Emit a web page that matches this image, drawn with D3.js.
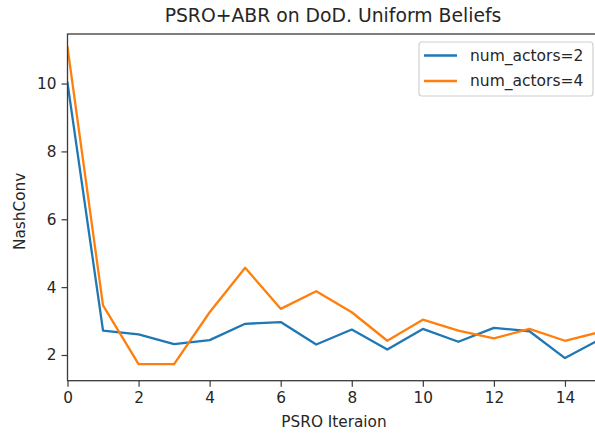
<!DOCTYPE html>
<html>
<head>
<meta charset="utf-8">
<script src="https://cdn.jsdelivr.net/npm/d3@7"></script>
<style>
  html, body { margin: 0; padding: 0; background: #fff; }
  svg { display: block; font-family: "DejaVu Sans", sans-serif; }
</style>
</head>
<body>
<svg id="chart" width="595" height="436"></svg>
<script>
// PSRO iterations and NashConv per run
const iterations = [0, 1, 2, 3, 4, 5, 6, 7, 8, 9, 10, 11, 12, 13, 14, 15];
const actors2 = [10.02, 2.72, 2.61, 2.32, 2.44, 2.92, 2.97, 2.31, 2.75, 2.16, 2.77, 2.39, 2.80, 2.70, 1.91, 2.47];
const actors4 = [11.07, 3.46, 1.73, 1.73, 3.26, 4.57, 3.36, 3.88, 3.26, 2.42, 3.04, 2.72, 2.49, 2.77, 2.42, 2.68];
const seriesNames = ["num_actors=2", "num_actors=4"];
const seriesColors = ["#1f77b4", "#ff7f0e"];
const xTicks = [0, 2, 4, 6, 8, 10, 12, 14];
const yTicks = [2, 4, 6, 8, 10];

const svg = d3.select("#chart");
const plot = { left: 67.5, right: 600.5, top: 34, bottom: 380.7 };

const x = d3.scaleLinear().domain([0, 15]).range([plot.left, plot.right]);
const y = d3.scaleLinear().domain([1.243, 11.46]).range([plot.bottom, plot.top]);

const textColor = "#262626";
const spineColor = "#3a3a3a";

// clip lines to the axes area
svg.append("clipPath").attr("id", "plot-clip")
  .append("rect")
  .attr("x", plot.left).attr("y", plot.top)
  .attr("width", plot.right - plot.left).attr("height", plot.bottom - plot.top);

const series = [actors2, actors4];
const line = d3.line().x((d, i) => x(iterations[i])).y(d => y(d));

series.forEach((vals, k) => {
  svg.append("path")
    .datum(vals)
    .attr("clip-path", "url(#plot-clip)")
    .attr("fill", "none")
    .attr("stroke", seriesColors[k])
    .attr("stroke-width", 2.3)
    .attr("stroke-linejoin", "round")
    .attr("stroke-linecap", "square")
    .attr("d", line);
});

// axes
const xAxis = d3.axisBottom(x).tickValues(xTicks).tickFormat(d3.format("d"))
  .tickSize(6).tickPadding(5);
const yAxis = d3.axisLeft(y).tickValues(yTicks).tickFormat(d3.format("d"))
  .tickSize(6).tickPadding(5);

const gx = svg.append("g").attr("transform", `translate(0,${plot.bottom})`).call(xAxis);
const gy = svg.append("g").attr("transform", `translate(${plot.left},0)`).call(yAxis);
[gx, gy].forEach(g => {
  g.select(".domain").remove();
  g.selectAll(".tick line").attr("stroke", spineColor).attr("stroke-width", 1.2);
  g.selectAll(".tick text").attr("fill", textColor).style("font-size", "15.3px")
    .style("font-family", "DejaVu Sans, sans-serif");
});

// spines
svg.append("rect")
  .attr("x", plot.left).attr("y", plot.top)
  .attr("width", plot.right - plot.left).attr("height", plot.bottom - plot.top)
  .attr("fill", "none").attr("stroke", spineColor).attr("stroke-width", 1.3);

// title and axis labels
svg.append("text")
  .attr("x", 333).attr("y", 21.5)
  .attr("text-anchor", "middle").attr("fill", textColor)
  .style("font-size", "18.8px")
  .text("PSRO+ABR on DoD. Uniform Beliefs");

svg.append("text")
  .attr("x", (plot.left + plot.right) / 2).attr("y", 427)
  .attr("text-anchor", "middle").attr("fill", textColor)
  .style("font-size", "15.3px")
  .text("PSRO Iteraion");

svg.append("text")
  .attr("transform", `translate(25,${(plot.top + plot.bottom) / 2 + 4}) rotate(-90)`)
  .attr("text-anchor", "middle").attr("fill", textColor)
  .style("font-size", "15.3px")
  .text("NashConv");

// legend
const legend = svg.append("g");
legend.append("rect")
  .attr("x", 419).attr("y", 42).attr("width", 174).attr("height", 54)
  .attr("rx", 3).attr("fill", "#fff").attr("fill-opacity", 0.8)
  .attr("stroke", "#d0d0d0").attr("stroke-width", 1.2);
seriesNames.forEach((name, k) => {
  const ly = 55.5 + k * 25.5;
  legend.append("line")
    .attr("x1", 424).attr("x2", 457).attr("y1", ly).attr("y2", ly)
    .attr("stroke", seriesColors[k]).attr("stroke-width", 2.3);
  legend.append("text")
    .attr("x", 470).attr("y", ly + 5.4)
    .attr("fill", textColor).style("font-size", "15.5px")
    .text(name);
});
</script>
</body>
</html>
